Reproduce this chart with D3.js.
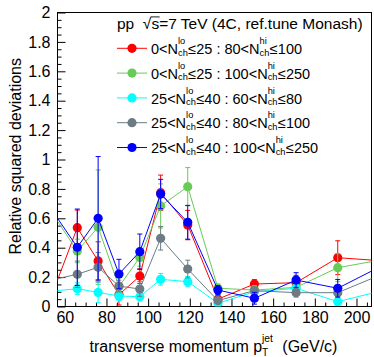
<!DOCTYPE html>
<html>
<head>
<meta charset="utf-8">
<script src="https://cdn.jsdelivr.net/npm/d3@7"></script>
<style>
  html, body { margin: 0; padding: 0; background: #fff; }
  svg { display: block; font-family: "Liberation Sans", Arial, Helvetica, sans-serif; }
  text { white-space: pre; }
</style>
</head>
<body>
<svg id="chart" width="374" height="357"></svg>
<script>
// Jet pT bin centres (GeV/c); the outermost bins lie just outside the visible range
const ptBins = [55, 66, 76, 86, 96, 106, 119, 133.5, 151, 171, 191, 211];

// Relative squared deviations and their uncertainties per multiplicity selection
const redVals   = [0.124, 0.536, 0.31, 0.08, 0.207, 0.774, 0.554, 0.05, 0.153, 0.162, 0.332, 0.312];
const redErrs   = [0.10, 0.12, 0.13, 0.07, 0.05, 0.12, 0.10, 0.02, 0.03, 0.05, 0.115, 0.10];
const greenVals = [0.612, 0.378, 0.539, 0.135, 0.334, 0.684, 0.815, 0.124, 0.112, 0.13, 0.264, 0.315];
const greenErrs = [0.10, 0.08, 0.39, 0.06, 0.06, 0.15, 0.13, 0.03, 0.03, 0.04, 0.095, 0.10];
const cyanVals  = [0.106, 0.121, 0.096, 0.071, 0.067, 0.185, 0.169, 0.022, 0.10, 0.124, 0.033, 0.103];
const cyanErrs  = [0.03, 0.04, 0.07, 0.03, 0.03, 0.04, 0.035, 0.01, 0.02, 0.03, 0.02, 0.03];
const grayVals  = [0.185, 0.219, 0.267, 0.139, 0.119, 0.464, 0.255, 0.04, 0.108, 0.094, 0.094, 0.212];
const grayErrs  = [0.05, 0.09, 0.10, 0.04, 0.05, 0.08, 0.06, 0.01, 0.02, 0.03, 0.03, 0.05];
const blueVals  = [0.631, 0.403, 0.60, 0.221, 0.373, 0.765, 0.573, 0.112, 0.056, 0.18, 0.124, 0.268];
const blueErrs  = [0.10, 0.26, 0.42, 0.10, 0.12, 0.10, 0.115, 0.03, 0.04, 0.05, 0.06, 0.05];

// Legend entries: [low-multiplicity range, high-multiplicity range]
const loRanges = [["0", "25"], ["0", "25"], ["25", "40"], ["25", "40"], ["25", "40"]];
const hiRanges = [["80", "100"], ["100", "250"], ["60", "80"], ["80", "100"], ["100", "250"]];
const seriesColors = ["#ff0000", "#66cc55", "#00ffff", "#6c7b84", "#0000ff"];

const xTicks = [60, 80, 100, 120, 140, 160, 180, 200];
const yTicks = [0, 0.2, 0.4, 0.6, 0.8, 1, 1.2, 1.4, 1.6, 1.8, 2];

const series = [
  { vals: redVals,   errs: redErrs },
  { vals: greenVals, errs: greenErrs },
  { vals: cyanVals,  errs: cyanErrs },
  { vals: grayVals,  errs: grayErrs },
  { vals: blueVals,  errs: blueErrs }
].map((s, i) => ({
  color: seriesColors[i],
  lo: loRanges[i],
  hi: hiRanges[i],
  points: ptBins.map((pt, j) => ({ pt, v: s.vals[j], e: s.errs[j] }))
}));

const svg = d3.select("#chart");
const frame = { left: 57.5, right: 371.5, top: 12.5, bottom: 306.5 };

const x = d3.scaleLinear().domain([56.5, 207.2]).range([frame.left, frame.right]);
const y = d3.scaleLinear().domain([0, 2]).range([frame.bottom, frame.top]);

svg.append("defs").append("clipPath").attr("id", "plotclip")
  .append("rect")
  .attr("x", frame.left).attr("y", frame.top)
  .attr("width", frame.right - frame.left).attr("height", frame.bottom - frame.top);

// Minor and major ticks pointing into the frame
const axisFont = 16;
function styleAxis(g) {
  g.select(".domain").remove();
  g.selectAll(".tick line").attr("stroke", "#000").attr("stroke-width", 1);
  g.selectAll("text").attr("font-size", axisFont).attr("fill", "#000")
    .attr("font-family", "Liberation Sans, Arial, sans-serif");
}

const xMinor = d3.range(60, 207, 5).filter(v => v % 20 !== 0);
svg.append("g").attr("transform", `translate(0,${frame.bottom})`)
  .call(d3.axisBottom(x).tickValues(xMinor).tickSize(-4).tickFormat(""))
  .call(styleAxis);
svg.append("g").attr("transform", `translate(0,${frame.bottom})`)
  .call(d3.axisBottom(x).tickValues(xTicks).tickSize(-8).tickPadding(5).tickFormat(d3.format("d")))
  .call(styleAxis);

const yMinor = d3.range(0, 2.001, 0.05).map(v => +v.toFixed(2)).filter(v => Math.round(v * 100) % 20 !== 0);
svg.append("g").attr("transform", `translate(${frame.left},0)`)
  .call(d3.axisLeft(y).tickValues(yMinor).tickSize(-4).tickFormat(""))
  .call(styleAxis);
svg.append("g").attr("transform", `translate(${frame.left},0)`)
  .call(d3.axisLeft(y).tickValues(yTicks).tickSize(-8).tickPadding(7).tickFormat(d3.format("~g")))
  .call(styleAxis);

// Frame
svg.append("rect")
  .attr("x", frame.left).attr("y", frame.top)
  .attr("width", frame.right - frame.left).attr("height", frame.bottom - frame.top)
  .attr("fill", "none").attr("stroke", "#000").attr("stroke-width", 1);

// Data: connecting lines, error bars, markers
const plot = svg.append("g").attr("clip-path", "url(#plotclip)");
const line = d3.line().x(d => x(d.pt)).y(d => y(d.v));
const capHalf = 2.5;
const markerR = 4.6;

series.forEach(s => {
  const g = plot.append("g");
  g.append("path").datum(s.points).attr("d", line)
    .attr("fill", "none").attr("stroke", s.color).attr("stroke-width", 1);
  const eb = g.selectAll(".eb").data(s.points).enter().append("g");
  eb.append("line")
    .attr("x1", d => x(d.pt)).attr("x2", d => x(d.pt))
    .attr("y1", d => y(d.v - d.e)).attr("y2", d => y(d.v + d.e))
    .attr("stroke", s.color).attr("stroke-width", 1);
  eb.append("line")
    .attr("x1", d => x(d.pt) - capHalf).attr("x2", d => x(d.pt) + capHalf)
    .attr("y1", d => y(d.v + d.e)).attr("y2", d => y(d.v + d.e))
    .attr("stroke", s.color).attr("stroke-width", 1);
  eb.append("line")
    .attr("x1", d => x(d.pt) - capHalf).attr("x2", d => x(d.pt) + capHalf)
    .attr("y1", d => y(d.v - d.e)).attr("y2", d => y(d.v - d.e))
    .attr("stroke", s.color).attr("stroke-width", 1);
  g.selectAll("circle").data(s.points.filter(d => d.pt >= x.domain()[0] && d.pt <= x.domain()[1]))
    .enter().append("circle")
    .attr("cx", d => x(d.pt)).attr("cy", d => y(d.v)).attr("r", markerR)
    .attr("fill", s.color);
});

// Text made of plain pieces and stacked super/subscripts
function richText(parent, px, py, parts, size, anchor) {
  const g = parent.append("g");
  const small = size * 0.64;
  let cx = 0;
  parts.forEach(p => {
    if (p.t !== undefined) {
      const el = g.append("text").attr("x", cx).attr("y", 0).attr("font-size", size).text(p.t);
      cx += el.node().getComputedTextLength();
    } else if (p.sqrt !== undefined) {
      const r = g.append("text").attr("x", cx).attr("y", 0).attr("font-size", size).text("√");
      const rw = r.node().getComputedTextLength();
      const arg = g.append("text").attr("x", cx + rw).attr("y", 0).attr("font-size", size).text(p.sqrt);
      const aw = arg.node().getComputedTextLength();
      g.append("line").attr("x1", cx + rw - 0.5).attr("x2", cx + rw + aw + 0.5)
        .attr("y1", -size * 0.78).attr("y2", -size * 0.78)
        .attr("stroke", "#000").attr("stroke-width", 0.9);
      cx += rw + aw;
    } else {
      let w = 0;
      if (p.sup) {
        const el = g.append("text").attr("x", cx).attr("y", p.supY !== undefined ? p.supY : -size * 0.6)
          .attr("font-size", small).text(p.sup);
        w = Math.max(w, el.node().getComputedTextLength());
      }
      if (p.sub) {
        const el = g.append("text").attr("x", cx).attr("y", p.subY !== undefined ? p.subY : size * 0.1)
          .attr("font-size", small).text(p.sub);
        w = Math.max(w, el.node().getComputedTextLength());
      }
      cx += w + 0.5;
    }
  });
  const shift = anchor === "middle" ? -cx / 2 : anchor === "end" ? -cx : 0;
  g.attr("transform", `translate(${px + shift},${py})`);
  g.selectAll("text").attr("fill", "#000");
  return g;
}

// Axis titles
richText(svg, (frame.left + frame.right) / 2 - 1, 351.5, [
  { t: "transverse momentum p" },
  { sup: "jet", sub: "T", supY: -9.5, subY: 4.5 },
  { t: "  (GeV/c)" }
], 16, "middle");

svg.append("text")
  .attr("transform", "translate(21,58) rotate(-90)")
  .attr("text-anchor", "end")
  .attr("font-size", 16).attr("fill", "#000")
  .text("Relative squared deviations");

// Legend
const legX = 117;
richText(svg, legX, 29, [
  { t: "pp  " }, { sqrt: "s" }, { t: "=7 TeV (4C, ref.tune Monash)" }
], 15.5, "start");

series.forEach((s, i) => {
  const cy = 48.3 + i * 24.8;
  svg.append("line").attr("x1", legX).attr("x2", legX + 30).attr("y1", cy).attr("y2", cy)
    .attr("stroke", s.color).attr("stroke-width", 1);
  svg.append("circle").attr("cx", legX + 15).attr("cy", cy).attr("r", markerR).attr("fill", s.color);
  richText(svg, legX + 34, cy + 5.7, [
    { t: s.lo[0] + "<N" }, { sup: "lo", sub: "ch", supY: -10, subY: 1.5 },
    { t: "≤" + s.lo[1] + " : " + s.hi[0] + "<N" }, { sup: "hi", sub: "ch", supY: -10, subY: 1.5 },
    { t: "≤" + s.hi[1] }
  ], 14.5, "start");
});
</script>
</body>
</html>
